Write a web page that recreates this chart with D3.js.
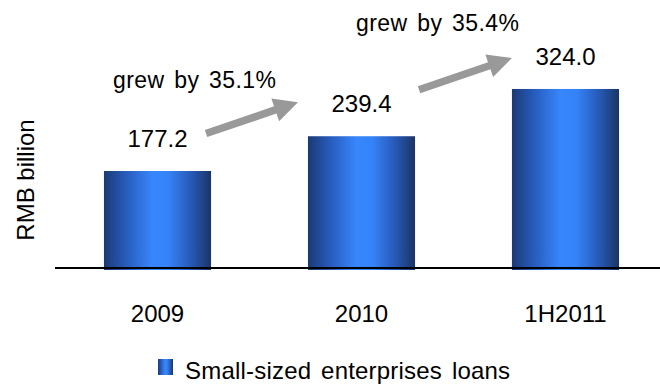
<!DOCTYPE html>
<html>
<head>
<meta charset="utf-8">
<script src="https://cdn.jsdelivr.net/npm/d3@7"></script>
<style>
  html, body { margin: 0; padding: 0; background: #fff; }
  svg { display: block; }
  text { font-family: Arial, "Liberation Sans", sans-serif; fill: #000; }
</style>
</head>
<body>
<svg id="chart" width="660" height="385"></svg>
<script>
// Loan balances, RMB billion
const categories = ["2009", "2010", "1H2011"];
const values = [177.2, 239.4, 324.0];
const valueLabels = ["177.2", "239.4", "324.0"];
const growthLabels = ["grew by 35.1%", "grew by 35.4%"];
const seriesName = "Small-sized enterprises loans";
const axisTitle = "RMB billion";

const svg = d3.select("#chart");
const W = 660, H = 385;

const x = d3.scaleBand()
  .domain(categories)
  .range([55, 668])
  .paddingInner(0.475)
  .paddingOuter(0.24);

const y = d3.scaleLinear()
  .domain([0, 400])
  .range([270, 46.5]);

// Cylinder-like shading for the bars
const defs = svg.append("defs");
const grad = defs.append("linearGradient")
  .attr("id", "barGrad")
  .attr("x1", "0%").attr("x2", "100%")
  .attr("y1", "0%").attr("y2", "0%");
[
  [0, "#1b3a74"],
  [0.18, "#2657b4"],
  [0.45, "#3786fb"],
  [0.6, "#3583f8"],
  [0.82, "#2658b4"],
  [1, "#1b3565"]
].forEach(([o, c]) => grad.append("stop").attr("offset", o).attr("stop-color", c));

// Bars
svg.append("g")
  .selectAll("rect")
  .data(values)
  .join("rect")
  .attr("x", (d, i) => x(categories[i]))
  .attr("y", d => y(d))
  .attr("width", x.bandwidth())
  .attr("height", d => y(0) - y(d))
  .attr("fill", "url(#barGrad)");

// Baseline
svg.append("line")
  .attr("x1", 55).attr("x2", W)
  .attr("y1", y(0) - 2).attr("y2", y(0) - 2)
  .attr("stroke", "#000")
  .attr("stroke-width", 2);

// Value labels above bars
svg.append("g")
  .selectAll("text")
  .data(values)
  .join("text")
  .attr("x", (d, i) => x(categories[i]) + x.bandwidth() / 2)
  .attr("y", d => y(d) - 24)
  .attr("text-anchor", "middle")
  .attr("font-size", 24)
  .text((d, i) => valueLabels[i]);

// Category labels
const xAxis = d3.axisBottom(x).tickSize(0).tickPadding(0);
const gx = svg.append("g")
  .attr("transform", `translate(0,${y(0)})`)
  .call(xAxis);
gx.select(".domain").remove();
gx.selectAll("text")
  .attr("dy", null)
  .attr("y", 52)
  .attr("font-size", 24)
  .attr("font-family", "Arial, 'Liberation Sans', sans-serif")
  .attr("fill", "#000");

// Axis title
svg.append("text")
  .attr("transform", "translate(34,180) rotate(-90)")
  .attr("text-anchor", "middle")
  .attr("font-size", 24)
  .text(axisTitle);

// Growth arrows between consecutive bars
function arrowPath(x0, y0, x1, y1) {
  const dx = x1 - x0, dy = y1 - y0;
  const len = Math.hypot(dx, dy);
  const ux = dx / len, uy = dy / len;
  const nx = -uy, ny = ux;
  const sw = 3.8, hl = 24, hw = 12;
  const bx = x1 - ux * hl, by = y1 - uy * hl;
  const pts = [
    [x0 + nx * sw, y0 + ny * sw],
    [bx + nx * sw, by + ny * sw],
    [bx + nx * hw, by + ny * hw],
    [x1, y1],
    [bx - nx * hw, by - ny * hw],
    [bx - nx * sw, by - ny * sw],
    [x0 - nx * sw, y0 - ny * sw]
  ];
  return d3.line()(pts) + "Z";
}

const bw = x.bandwidth();
const arrowSpecs = [
  { x0: x(categories[0]) + bw - 5, y0: y(values[0]) - 37.5,
    x1: x(categories[1]) - 10,     y1: y(values[1]) - 34 },
  { x0: x(categories[1]) + bw + 4, y0: y(values[1]) - 46.5,
    x1: x(categories[2]),          y1: y(values[2]) - 31 }
];
svg.append("g")
  .selectAll("path")
  .data(arrowSpecs)
  .join("path")
  .attr("d", d => arrowPath(d.x0, d.y0, d.x1, d.y1))
  .attr("fill", "#999999");

// Growth labels
const growthPos = [
  { x: 113, y: 88 },
  { x: 356, y: 31 }
];
svg.append("g")
  .selectAll("text")
  .data(growthLabels)
  .join("text")
  .attr("x", (d, i) => growthPos[i].x)
  .attr("y", (d, i) => growthPos[i].y)
  .attr("font-size", 23)
  .attr("letter-spacing", 0.4)
  .attr("word-spacing", 3)
  .text(d => d);

// Legend
const lg = svg.append("g");
lg.append("rect")
  .attr("x", 158).attr("y", 359)
  .attr("width", 15).attr("height", 16)
  .attr("fill", "url(#barGrad)");
lg.append("text")
  .attr("x", 185).attr("y", 379)
  .attr("font-size", 24)
  .attr("letter-spacing", 0.2)
  .attr("word-spacing", 3)
  .text(seriesName);
</script>
</body>
</html>
